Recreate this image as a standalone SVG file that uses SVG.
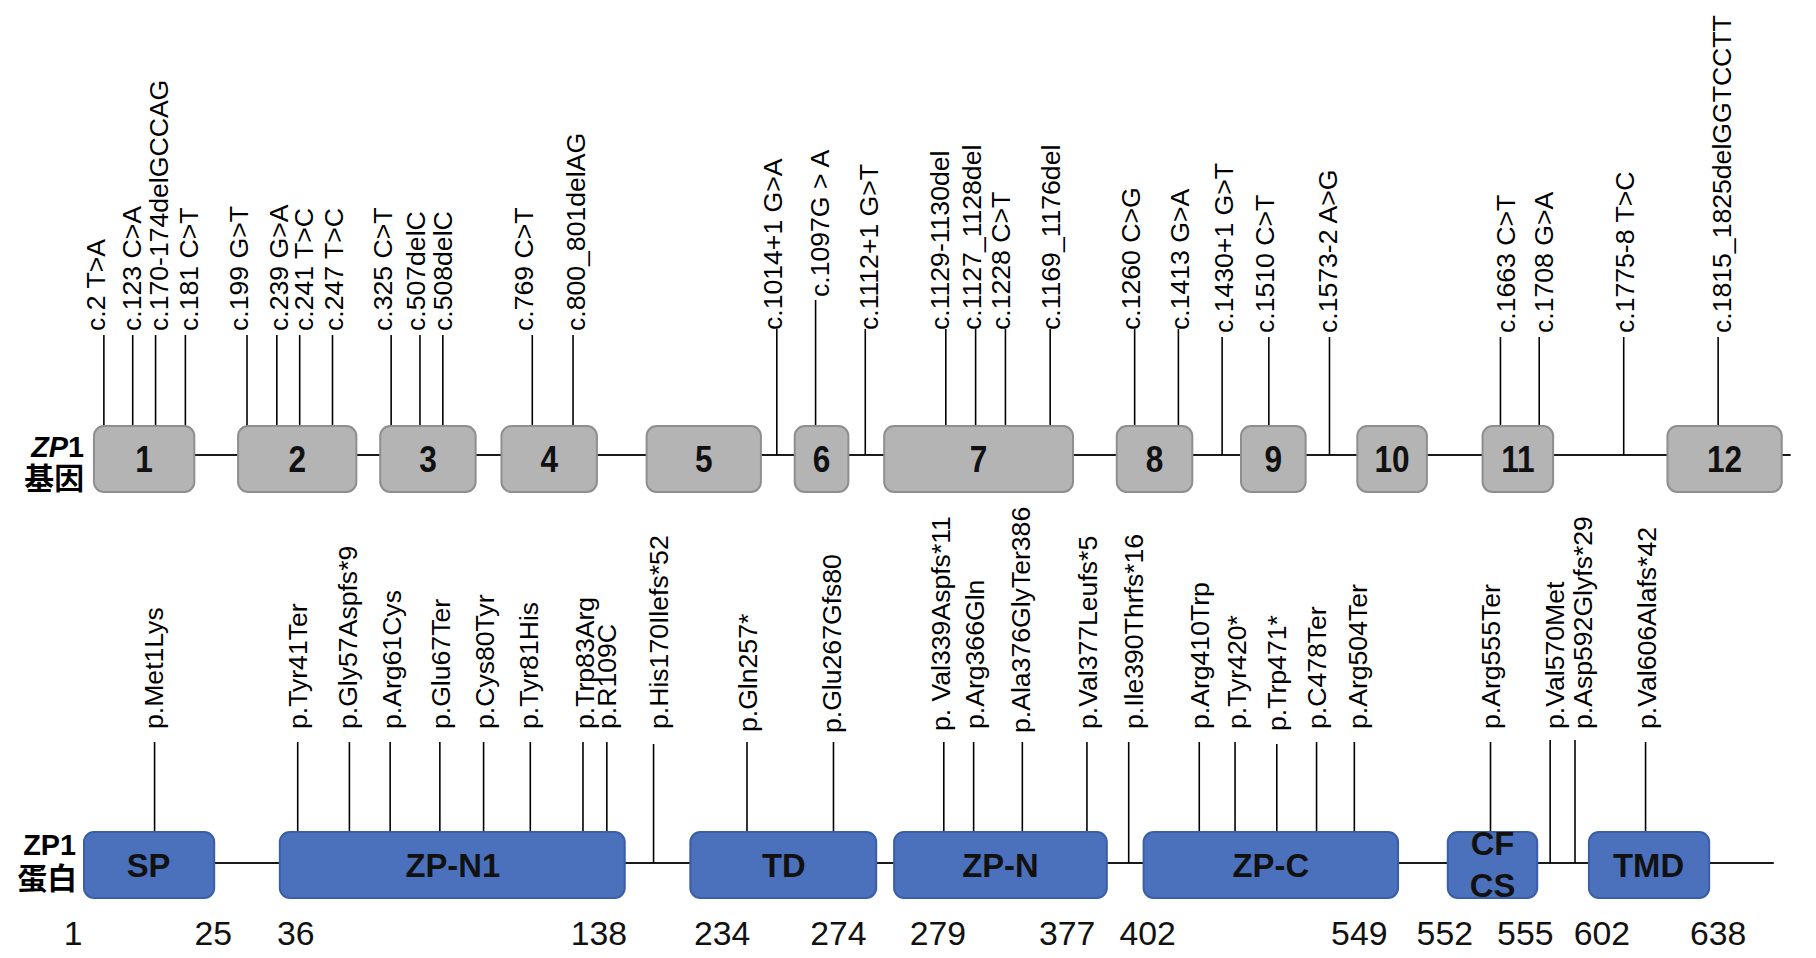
<svg xmlns="http://www.w3.org/2000/svg" width="1816" height="958" viewBox="0 0 1816 958">
<style>
.bg{fill:#ffffff}
.exon{fill:#b4b4b4;stroke:#8e8e8e;stroke-width:2}
.dom{fill:#4b71bd;stroke:#3a5ea8;stroke-width:2}
.axis{stroke:#1a1a1a;stroke-width:2;fill:none}
.tick{stroke:#000;stroke-width:1.6;fill:none}
.mut{font-family:"Liberation Sans",Arial,sans-serif;font-size:26.6px;fill:#000}
.num{font-family:"Liberation Sans",Arial,sans-serif;font-size:37px;font-weight:bold;fill:#111;text-anchor:middle}
.dlab{font-family:"Liberation Sans",Arial,sans-serif;font-size:33px;font-weight:bold;fill:#111;text-anchor:middle}
.pos{font-family:"Liberation Sans",Arial,sans-serif;font-size:34px;fill:#111;text-anchor:middle}
.side{font-family:"Liberation Sans","Noto Sans CJK SC",Arial,sans-serif;font-weight:bold;fill:#000;text-anchor:end}
</style>
<rect class="bg" x="0" y="0" width="1816" height="958"/>
<g id="diagram" transform="matrix(0.994 0 0 1 0.5 0)">

<g id="connectors">
  <line class="axis" x1="94" y1="455" x2="1801" y2="455"/>
  <line class="axis" x1="84" y1="863" x2="1784" y2="863"/>
  <line class="tick" x1="104" y1="335" x2="104" y2="426"/>
  <line class="tick" x1="133" y1="335" x2="133" y2="426"/>
  <line class="tick" x1="156" y1="335" x2="156" y2="426"/>
  <line class="tick" x1="186" y1="335" x2="186" y2="430"/>
  <line class="tick" x1="248" y1="335" x2="248" y2="426"/>
  <line class="tick" x1="278" y1="335" x2="278" y2="426"/>
  <line class="tick" x1="301" y1="335" x2="301" y2="426"/>
  <line class="tick" x1="334" y1="335" x2="334" y2="426"/>
  <line class="tick" x1="393" y1="335" x2="393" y2="426"/>
  <line class="tick" x1="422" y1="335" x2="422" y2="426"/>
  <line class="tick" x1="445" y1="335" x2="445" y2="426"/>
  <line class="tick" x1="535" y1="335" x2="535" y2="426"/>
  <line class="tick" x1="576" y1="335" x2="576" y2="426"/>
  <line class="tick" x1="781" y1="329" x2="781" y2="455"/>
  <line class="tick" x1="820" y1="300" x2="820" y2="426"/>
  <line class="tick" x1="870" y1="329" x2="870" y2="455"/>
  <line class="tick" x1="951" y1="329" x2="951" y2="426"/>
  <line class="tick" x1="981" y1="329" x2="981" y2="426"/>
  <line class="tick" x1="1011" y1="329" x2="1011" y2="426"/>
  <line class="tick" x1="1056" y1="329" x2="1056" y2="426"/>
  <line class="tick" x1="1141" y1="329" x2="1141" y2="426"/>
  <line class="tick" x1="1185" y1="329" x2="1185" y2="428"/>
  <line class="tick" x1="1229" y1="337" x2="1229" y2="455"/>
  <line class="tick" x1="1276" y1="337" x2="1276" y2="426"/>
  <line class="tick" x1="1337" y1="337" x2="1337" y2="455"/>
  <line class="tick" x1="1509" y1="337" x2="1509" y2="426"/>
  <line class="tick" x1="1548" y1="337" x2="1548" y2="426"/>
  <line class="tick" x1="1633" y1="337" x2="1633" y2="455"/>
  <line class="tick" x1="1728" y1="337" x2="1728" y2="426"/>
  <line class="tick" x1="155" y1="742" x2="155" y2="833"/>
  <line class="tick" x1="299" y1="742" x2="299" y2="833"/>
  <line class="tick" x1="351" y1="742" x2="351" y2="833"/>
  <line class="tick" x1="392" y1="742" x2="392" y2="833"/>
  <line class="tick" x1="442" y1="742" x2="442" y2="833"/>
  <line class="tick" x1="486" y1="742" x2="486" y2="833"/>
  <line class="tick" x1="533" y1="742" x2="533" y2="833"/>
  <line class="tick" x1="586" y1="742" x2="586" y2="833"/>
  <line class="tick" x1="610" y1="742" x2="610" y2="833"/>
  <line class="tick" x1="657" y1="744" x2="657" y2="863"/>
  <line class="tick" x1="751" y1="742" x2="751" y2="833"/>
  <line class="tick" x1="838" y1="742" x2="838" y2="833"/>
  <line class="tick" x1="949" y1="742" x2="949" y2="833"/>
  <line class="tick" x1="979" y1="742" x2="979" y2="831"/>
  <line class="tick" x1="1028" y1="742" x2="1028" y2="833"/>
  <line class="tick" x1="1093" y1="742" x2="1093" y2="833"/>
  <line class="tick" x1="1135" y1="742" x2="1135" y2="863"/>
  <line class="tick" x1="1206" y1="742" x2="1206" y2="833"/>
  <line class="tick" x1="1242" y1="742" x2="1242" y2="833"/>
  <line class="tick" x1="1284" y1="744" x2="1284" y2="833"/>
  <line class="tick" x1="1324" y1="742" x2="1324" y2="833"/>
  <line class="tick" x1="1362" y1="742" x2="1362" y2="833"/>
  <line class="tick" x1="1499" y1="742" x2="1499" y2="833"/>
  <line class="tick" x1="1559" y1="740" x2="1559" y2="863"/>
  <line class="tick" x1="1584" y1="740" x2="1584" y2="863"/>
  <line class="tick" x1="1655" y1="742" x2="1655" y2="833"/>
</g>

<g id="gene-label">
  <text class="side" x="84" y="457" font-size="29"><tspan font-style="italic">ZP</tspan>1</text>
  <text class="side" x="84" y="489" font-size="30">基因</text>
</g>
<g id="protein-label">
  <text class="side" x="76" y="855" font-size="29">ZP1</text>
  <text class="side" x="77" y="889" font-size="30">蛋白</text>
</g>

<g id="exon1"><rect class="exon" x="94" y="426" width="101" height="66" rx="10"/><text class="num" transform="translate(144.5,472) scale(0.86,1)">1</text></g>
<g id="exon2"><rect class="exon" x="239" y="426" width="119" height="66" rx="10"/><text class="num" transform="translate(298.5,472) scale(0.86,1)">2</text></g>
<g id="exon3"><rect class="exon" x="382" y="426" width="96" height="66" rx="10"/><text class="num" transform="translate(430,472) scale(0.86,1)">3</text></g>
<g id="exon4"><rect class="exon" x="504" y="426" width="96" height="66" rx="10"/><text class="num" transform="translate(552,472) scale(0.86,1)">4</text></g>
<g id="exon5"><rect class="exon" x="650" y="426" width="115" height="66" rx="10"/><text class="num" transform="translate(707.5,472) scale(0.86,1)">5</text></g>
<g id="exon6"><rect class="exon" x="799" y="426" width="54" height="66" rx="10"/><text class="num" transform="translate(826,472) scale(0.86,1)">6</text></g>
<g id="exon7"><rect class="exon" x="889" y="426" width="190" height="66" rx="10"/><text class="num" transform="translate(984,472) scale(0.86,1)">7</text></g>
<g id="exon8"><rect class="exon" x="1123" y="426" width="76" height="66" rx="10"/><text class="num" transform="translate(1161,472) scale(0.86,1)">8</text></g>
<g id="exon9"><rect class="exon" x="1248" y="426" width="65" height="66" rx="10"/><text class="num" transform="translate(1280.5,472) scale(0.86,1)">9</text></g>
<g id="exon10"><rect class="exon" x="1365" y="426" width="70" height="66" rx="10"/><text class="num" transform="translate(1400,472) scale(0.86,1)">10</text></g>
<g id="exon11"><rect class="exon" x="1491" y="426" width="71" height="66" rx="10"/><text class="num" transform="translate(1526.5,472) scale(0.86,1)">11</text></g>
<g id="exon12"><rect class="exon" x="1677" y="426" width="115" height="66" rx="10"/><text class="num" transform="translate(1734.5,472) scale(0.86,1)">12</text></g>

<g id="domain-SP"><rect class="dom" x="84" y="832" width="131" height="66" rx="10"/><text class="dlab" x="149" y="877">SP</text></g>
<g id="domain-ZPN1"><rect class="dom" x="281" y="832" width="347" height="66" rx="10"/><text class="dlab" x="455" y="877">ZP-N1</text></g>
<g id="domain-TD"><rect class="dom" x="694" y="832" width="187" height="66" rx="10"/><text class="dlab" x="788" y="877">TD</text></g>
<g id="domain-ZPN"><rect class="dom" x="899" y="832" width="214" height="66" rx="10"/><text class="dlab" x="1006" y="877">ZP-N</text></g>
<g id="domain-ZPC"><rect class="dom" x="1150" y="832" width="256" height="66" rx="10"/><text class="dlab" x="1278" y="877">ZP-C</text></g>
<g id="domain-CFCS"><rect class="dom" x="1456" y="832" width="90" height="66" rx="10"/><text class="dlab" x="1501" y="855">CF</text><text class="dlab" x="1501" y="897">CS</text></g>
<g id="domain-TMD"><rect class="dom" x="1598" y="832" width="121" height="66" rx="10"/><text class="dlab" x="1658" y="877">TMD</text></g>

<g id="gene-mutations" class="mut">
  <text transform="translate(105,331) rotate(-90)">c.2 T&gt;A</text>
  <text transform="translate(141,331) rotate(-90)">c.123 C&gt;A</text>
  <text transform="translate(169,331) rotate(-90)">c.170-174delGCCAG</text>
  <text transform="translate(199,331) rotate(-90)">c.181 C&gt;T</text>
  <text transform="translate(249,331) rotate(-90)">c.199 G&gt;T</text>
  <text transform="translate(289,331) rotate(-90)">c.239 G&gt;A</text>
  <text transform="translate(314,331) rotate(-90)">c.241 T&gt;C</text>
  <text transform="translate(345,331) rotate(-90)">c.247 T&gt;C</text>
  <text transform="translate(394,331) rotate(-90)">c.325 C&gt;T</text>
  <text transform="translate(427,331) rotate(-90)">c.507delC</text>
  <text transform="translate(454,331) rotate(-90)">c.508delC</text>
  <text transform="translate(536,331) rotate(-90)">c.769 C&gt;T</text>
  <text transform="translate(588,331) rotate(-90)">c.800_801delAG</text>
  <text transform="translate(786,330) rotate(-90)">c.1014+1 G&gt;A</text>
  <text transform="translate(834,297) rotate(-90)">c.1097G &gt; A</text>
  <text transform="translate(883,330) rotate(-90)">c.1112+1 G&gt;T</text>
  <text transform="translate(954,330) rotate(-90)">c.1129-1130del</text>
  <text transform="translate(986,330) rotate(-90)">c.1127_1128del</text>
  <text transform="translate(1016,330) rotate(-90)">c.1228 C&gt;T</text>
  <text transform="translate(1066,330) rotate(-90)">c.1169_1176del</text>
  <text transform="translate(1146,330) rotate(-90)">c.1260 C&gt;G</text>
  <text transform="translate(1196,330) rotate(-90)">c.1413 G&gt;A</text>
  <text transform="translate(1240,333) rotate(-90)">c.1430+1 G&gt;T</text>
  <text transform="translate(1281,333) rotate(-90)">c.1510 C&gt;T</text>
  <text transform="translate(1345,333) rotate(-90)">c.1573-2 A&gt;G</text>
  <text transform="translate(1524,333) rotate(-90)">c.1663 C&gt;T</text>
  <text transform="translate(1562,333) rotate(-90)">c.1708 G&gt;A</text>
  <text transform="translate(1643,333) rotate(-90)">c.1775-8 T&gt;C</text>
  <text transform="translate(1741,333) rotate(-90)">c.1815_1825delGGTCCTT</text>
</g>

<g id="protein-mutations" class="mut">
  <text transform="translate(163,729) rotate(-90)">p.Met1Lys</text>
  <text transform="translate(308,729) rotate(-90)">p.Tyr41Ter</text>
  <text transform="translate(359,729) rotate(-90)">p.Gly57Aspfs*9</text>
  <text transform="translate(403,729) rotate(-90)">p.Arg61Cys</text>
  <text transform="translate(452,729) rotate(-90)">p.Glu67Ter</text>
  <text transform="translate(496,729) rotate(-90)">p.Cys80Tyr</text>
  <text transform="translate(541,729) rotate(-90)">p.Tyr81His</text>
  <text transform="translate(597,729) rotate(-90)">p.Trp83Arg</text>
  <text transform="translate(619,729) rotate(-90)">p.R109C</text>
  <text transform="translate(672,729) rotate(-90)">p.His170Ilefs*52</text>
  <text transform="translate(761,732) rotate(-90)">p.Gln257*</text>
  <text transform="translate(846,733) rotate(-90)">p.Glu267Gfs80</text>
  <text transform="translate(955,731) rotate(-90)">p. Val339Aspfs*11</text>
  <text transform="translate(989,729) rotate(-90)">p.Arg366Gln</text>
  <text transform="translate(1036,733) rotate(-90)">p.Ala376GlyTer386</text>
  <text transform="translate(1103,729) rotate(-90)">p.Val377Leufs*5</text>
  <text transform="translate(1149,729) rotate(-90)">p.Ile390Thrfs*16</text>
  <text transform="translate(1216,729) rotate(-90)">p.Arg410Trp</text>
  <text transform="translate(1253,729) rotate(-90)">p.Tyr420*</text>
  <text transform="translate(1293,731) rotate(-90)">p.Trp471*</text>
  <text transform="translate(1334,729) rotate(-90)">p.C478Ter</text>
  <text transform="translate(1375,729) rotate(-90)">p.Arg504Ter</text>
  <text transform="translate(1509,729) rotate(-90)">p.Arg555Ter</text>
  <text transform="translate(1573,729) rotate(-90)">p.Val570Met</text>
  <text transform="translate(1601,729) rotate(-90)">p.Asp592Glyfs*29</text>
  <text transform="translate(1665,729) rotate(-90)">p.Val606Alafs*42</text>
</g>

<g id="positions" class="pos">
  <text x="73" y="945">1</text>
  <text x="214" y="945">25</text>
  <text x="297" y="945">36</text>
  <text x="602" y="945">138</text>
  <text x="726" y="945">234</text>
  <text x="843" y="945">274</text>
  <text x="943" y="945">279</text>
  <text x="1073" y="945">377</text>
  <text x="1154" y="945">402</text>
  <text x="1367" y="945">549</text>
  <text x="1453" y="945">552</text>
  <text x="1534" y="945">555</text>
  <text x="1611" y="945">602</text>
  <text x="1728" y="945">638</text>
</g>
</g>
</svg>
